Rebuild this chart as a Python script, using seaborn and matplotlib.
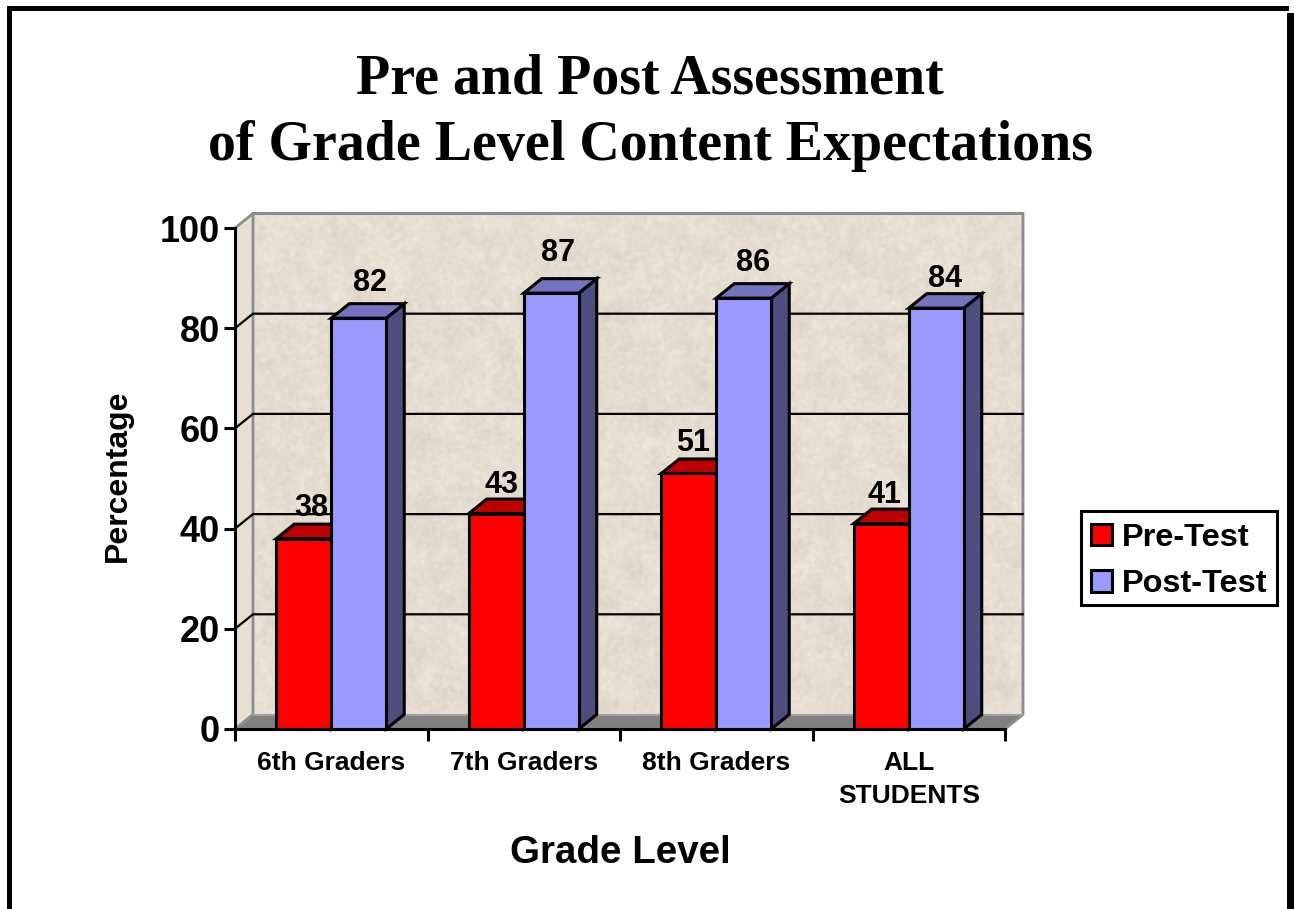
import numpy as np
import pandas as pd
import matplotlib
matplotlib.use("Agg")
import matplotlib.pyplot as plt
from matplotlib.patches import Polygon, Rectangle
import seaborn as sns

# Data
grades = ["6th Graders", "7th Graders", "8th Graders", "ALL\nSTUDENTS"]
pre_test = [38, 43, 51, 41]
post_test = [82, 87, 86, 84]
y_ticks = [0, 20, 40, 60, 80, 100]

df = pd.DataFrame({
    "Grade": grades * 2,
    "Test": ["Pre-Test"] * 4 + ["Post-Test"] * 4,
    "Percentage": pre_test + post_test,
})

W, H = 1294, 909
front = {"Pre-Test": "#ff0000", "Post-Test": "#9999ff"}
top_col = {"Pre-Test": "#bf0000", "Post-Test": "#7373bf"}
side_col = {"Pre-Test": "#7f0000", "Post-Test": "#4d4d80"}
wall_col = np.array([229, 221, 208]) / 255

# hand nudges for the value labels, in pixels (x, y up)
label_nudge = {
    "Pre-Test": [(-1, -11), (-4, -13), (-5, -12), (-6, -13)],
    "Post-Test": [(2, -7), (-2, -2), (0, -7), (0, -13)],
}

sns.set_theme(style="white")
plt.rcParams["font.family"] = ["Liberation Sans", "DejaVu Sans"]
plt.rcParams["font.weight"] = "bold"

fig = plt.figure(figsize=(W / 100, H / 100), dpi=100, facecolor="white")
ax = fig.add_axes([235 / W, 1 - 729 / H, 770 / W, 501 / H])

sns.barplot(data=df, x="Grade", y="Percentage", hue="Test", palette=front,
            width=0.5714, gap=0, saturation=1, edgecolor="black", linewidth=2.2,
            ax=ax)
ax.set_xlim(-0.5, 3.5)
ax.set_ylim(0, 100)

# depth of the fake 3D box, in data units
dx = 18 / 192.5
dy = 14.5 / 5.01
x0, x1 = -0.5, 3.5

# Back wall with a speckled paper texture (decoration only)
yy, xx = np.mgrid[0:501, 0:770]
speck = np.sin(xx * 12.9898 + yy * 78.233) * 43758.5453
speck = speck - np.floor(speck) - 0.5
fx = np.fft.fftfreq(501)[:, None]
fy = np.fft.fftfreq(770)[None, :]
fine = np.fft.ifft2(np.fft.fft2(speck) * np.exp(-(fx**2 + fy**2) * 2 * (np.pi * 1.4)**2)).real
broad = np.fft.ifft2(np.fft.fft2(speck) * np.exp(-(fx**2 + fy**2) * 2 * (np.pi * 8)**2)).real
shade = fine / fine.std() * 0.009 + broad / broad.std() * 0.005
tex = np.clip(wall_col[None, None, :] + shade[:, :, None], 0, 1)
ax.imshow(tex, extent=[x0 + dx, x1 + dx, dy, 100 + dy], aspect="auto",
          zorder=0.1, clip_on=False, interpolation="bilinear")
ax.set_xlim(x0, x1)
ax.set_ylim(0, 100)

ax.add_patch(Polygon([(x0, 0), (x0 + dx, dy), (x0 + dx, 100 + dy), (x0, 100)],
                     facecolor="#e6dfd2", edgecolor="none", zorder=0.2, clip_on=False))
ax.add_patch(Polygon([(x0, 0), (x0 + dx, dy), (x1 + dx, dy), (x1, 0)],
                     facecolor="#808080", edgecolor="none", zorder=0.3, clip_on=False))

# wall outline
ax.plot([x0, x0 + dx, x1 + dx, x1 + dx, x1], [100, 100 + dy, 100 + dy, dy, 0],
        color="#8c8c8c", lw=2, zorder=0.6, clip_on=False)
ax.plot([x0, x0 + dx, x0 + dx, x1 + dx], [0, dy, 100 + dy, 100 + dy],
        color="#8c8c8c", lw=2, zorder=0.6, clip_on=False)
ax.plot([x0 + dx, x1 + dx], [dy, dy], color="#a0a0a0", lw=1.5, zorder=0.6, clip_on=False)

# gridlines run along left wall and back wall
for v in y_ticks[1:-1]:
    ax.plot([x0, x0 + dx, x1 + dx], [v, v + dy, v + dy], color="black", lw=1.6,
            zorder=0.8, clip_on=False, solid_joinstyle="miter")

# Side and top faces from the bars seaborn drew
for cont, name in zip(ax.containers, ["Pre-Test", "Post-Test"]):
    for i, bar in enumerate(cont):
        l, w, h = bar.get_x(), bar.get_width(), bar.get_height()
        r = l + w
        order = 2 + 2 * i + (0 if name == "Pre-Test" else 1)
        bar.set_zorder(order + 0.5)
        bar.set_joinstyle("miter")
        ax.add_patch(Polygon([(r, 0), (r + dx, dy), (r + dx, h + dy), (r, h)],
                             facecolor=side_col[name], edgecolor="black", lw=2.2,
                             zorder=order, clip_on=False, joinstyle="miter"))
        ax.add_patch(Polygon([(l, h), (l + dx, h + dy), (r + dx, h + dy), (r, h)],
                             facecolor=top_col[name], edgecolor="black", lw=2.2,
                             zorder=order, clip_on=False, joinstyle="miter"))
        nx, ny = label_nudge[name][i]
        ax.annotate(f"{h:.0f}", (l + w / 2 + dx / 2, h + dy),
                    xytext=(nx * 0.72, 9 + ny * 0.72),
                    textcoords="offset points", ha="center", va="bottom",
                    fontsize=22, fontweight="bold", color="black", zorder=60,
                    annotation_clip=False)

# Axes
for s in ["top", "right"]:
    ax.spines[s].set_visible(False)
for s in ["left", "bottom"]:
    ax.spines[s].set_color("black")
    ax.spines[s].set_linewidth(2.2)
    ax.spines[s].set_zorder(40)
ax.set_yticks(y_ticks)
ax.tick_params(axis="y", left=True, length=8, width=2.2, color="black", pad=3,
               labelsize=26, labelcolor="black")
ax.set_xticks(range(4))
ax.set_xticklabels(grades, fontsize=19, fontweight="bold", color="black", linespacing=1.47)
ax.set_xticks([-0.5, 0.5, 1.5, 2.5, 3.5], minor=True)
ax.tick_params(axis="x", which="major", bottom=False, length=0, pad=16)
ax.tick_params(axis="x", which="minor", bottom=True, length=8.5, width=2.2, color="black")
for t in ax.get_yticklabels():
    t.set_fontweight("bold")

ax.set_xlabel("")
ax.set_ylabel("")
fig.text(620 / W, 1 - 853 / H, "Grade Level", fontsize=27.7, fontweight="bold",
         ha="center", va="center", color="black")
fig.text(118 / W, 1 - 476 / H, "Percentage", fontsize=23, fontweight="bold", rotation=90,
         ha="center", va="center", color="black")
fig.text(650 / W, 1 - 113 / H, "Pre and Post Assessment\nof Grade Level Content Expectations",
         fontsize=40.2, fontweight="bold", family=["Liberation Serif", "DejaVu Serif"],
         ha="center", va="center", color="black", linespacing=1.37)

# Legend, box drawn separately so the entries can sit where they do in the original
ax.add_patch(Rectangle((1081 / W, 1 - 605 / H), 196 / W, 94 / H, transform=fig.transFigure,
                       facecolor="white", edgecolor="black", lw=2.2, zorder=65, clip_on=False))
sns.move_legend(ax, loc="center left", bbox_to_anchor=(1091 / W, 1 - 561 / H),
                bbox_transform=fig.transFigure, title=None, frameon=False, fontsize=23.4,
                handlelength=0.66, handleheight=0.66, handletextpad=0.3, labelspacing=0.5,
                borderpad=0, borderaxespad=0)
leg = ax.get_legend()
leg.set_zorder(70)
for t in leg.get_texts():
    t.set_fontweight("bold")
    t.set_color("black")
for p in leg.get_patches():
    p.set_edgecolor("black")
    p.set_linewidth(2.2)

# Outer slide frame, open past the bottom of the picture; right side is heavier
def frame_bar(px0, py0, px1, py1):
    fig.add_artist(Rectangle((px0 / W, 1 - py1 / H), (px1 - px0) / W, (py1 - py0) / H,
                             transform=fig.transFigure, facecolor="black", edgecolor="none",
                             zorder=100))

frame_bar(7, 6, 1289, 11)
frame_bar(7, 6, 12, H)
frame_bar(1287, 13, W, H)

fig.savefig("out.png", dpi=100, facecolor="white")
